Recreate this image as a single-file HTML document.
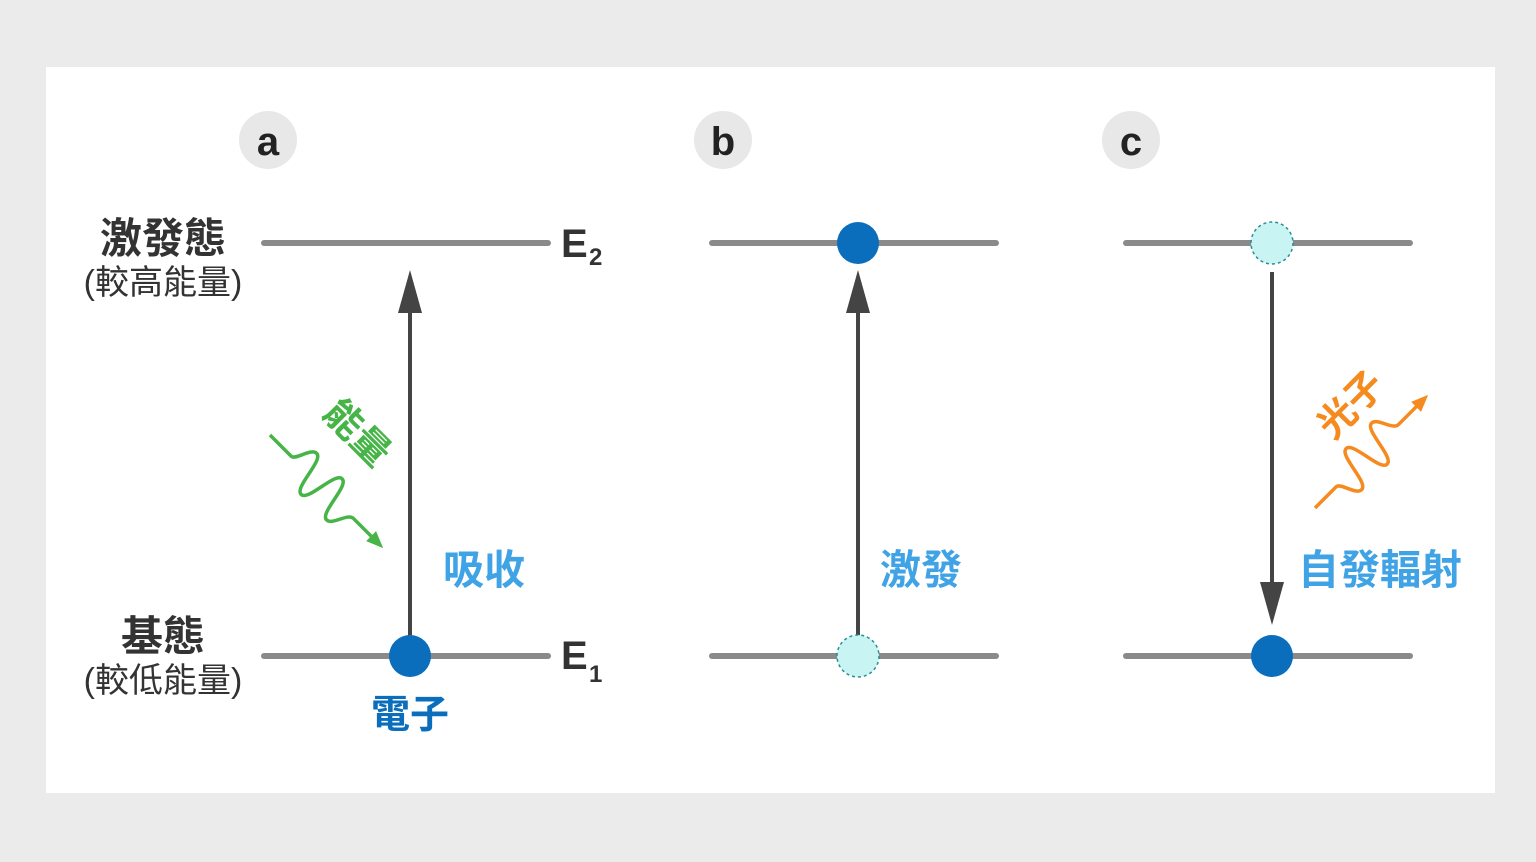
<!DOCTYPE html>
<html><head><meta charset="utf-8"><style>
body{margin:0;background:#ebebeb;}
svg{display:block}
text{font-family:"Liberation Sans","Noto Sans CJK TC",sans-serif;}
</style></head><body>
<svg width="1536" height="862" xmlns="http://www.w3.org/2000/svg">
<rect x="0" y="0" width="1536" height="862" fill="#ebebeb"/>
<rect x="46" y="67" width="1449" height="726" fill="#fff"/>
<circle cx="268" cy="140" r="29" fill="#e8e8e8"/><text x="268" y="155" font-size="40" font-weight="bold" text-anchor="middle" fill="#222">a</text>
<circle cx="723" cy="140" r="29" fill="#e8e8e8"/><text x="723" y="155" font-size="40" font-weight="bold" text-anchor="middle" fill="#222">b</text>
<circle cx="1131" cy="140" r="29" fill="#e8e8e8"/><text x="1131" y="155" font-size="40" font-weight="bold" text-anchor="middle" fill="#222">c</text>
<g stroke="#8a8a8a" stroke-width="6" stroke-linecap="round">
<line x1="264" y1="243" x2="548" y2="243"/><line x1="264" y1="656" x2="548" y2="656"/>
<line x1="712" y1="243" x2="996" y2="243"/><line x1="712" y1="656" x2="996" y2="656"/>
<line x1="1126" y1="243" x2="1410" y2="243"/><line x1="1126" y1="656" x2="1410" y2="656"/>
</g>
<text x="163" y="253" font-size="42" font-weight="bold" text-anchor="middle" fill="#333">激發態</text>
<text x="163" y="294" font-size="34" text-anchor="middle" fill="#333">(較高能量)</text>
<text x="163" y="651" font-size="42" font-weight="bold" text-anchor="middle" fill="#333">基態</text>
<text x="163" y="692" font-size="34" text-anchor="middle" fill="#333">(較低能量)</text>
<text x="561" y="257" font-size="40" font-weight="bold" fill="#333">E</text><text x="589" y="265" font-size="24" font-weight="bold" fill="#333">2</text>
<text x="561" y="669" font-size="40" font-weight="bold" fill="#333">E</text><text x="589" y="682" font-size="24" font-weight="bold" fill="#333">1</text>
<g stroke="#444" stroke-width="4">
<line x1="410" y1="636" x2="410" y2="300"/>
<line x1="858" y1="636" x2="858" y2="300"/>
<line x1="1272" y1="272" x2="1272" y2="595"/>
</g>
<g fill="#444">
<polygon points="410,270 398,313 422,313"/>
<polygon points="858,270 846,313 870,313"/>
<polygon points="1272,625 1260,582 1284,582"/>
</g>
<circle cx="410" cy="656" r="21" fill="#0a6ebd"/>
<circle cx="858" cy="243" r="21" fill="#0a6ebd"/>
<circle cx="1272" cy="656" r="21" fill="#0a6ebd"/>
<circle cx="858" cy="656" r="21" fill="#c8f4f4" stroke="#2a8f8f" stroke-width="1.5" stroke-dasharray="3,3"/>
<circle cx="1272" cy="243" r="21" fill="#c8f4f4" stroke="#2a8f8f" stroke-width="1.5" stroke-dasharray="3,3"/>
<text x="410" y="728" font-size="39" font-weight="bold" text-anchor="middle" fill="#0a6ebd">電子</text>
<text x="484" y="584" font-size="41" font-weight="bold" text-anchor="middle" fill="#3fa3e6">吸收</text>
<text x="921" y="584" font-size="41" font-weight="bold" text-anchor="middle" fill="#3fa3e6">激發</text>
<text x="1380" y="584" font-size="41" font-weight="bold" text-anchor="middle" fill="#3fa3e6">自發輻射</text>
<g transform="translate(270,435) rotate(45)">
<path d="M0 0 L30 0 C36 0 38 -20 46 -20 C56 -20 54 20 64 20 C74 20 72 -20 82 -20 C92 -20 90 20 100 20 C108 20 110 0 118 0 L150 0" fill="none" stroke="#46b446" stroke-width="3.5" stroke-linejoin="round"/>
<polygon points="160,0 143,-7 143,7" fill="#46b446"/>
</g>
<text transform="translate(348,442) rotate(45)" font-size="38" font-weight="bold" text-anchor="middle" fill="#46b446">能量</text>
<g transform="translate(1315,508) rotate(-45)">
<path d="M0 0 L30 0 C36 0 38 20 46 20 C56 20 54 -20 64 -20 C74 -20 72 20 82 20 C92 20 90 -20 100 -20 C108 -20 110 0 118 0 L150 0" fill="none" stroke="#f58a1f" stroke-width="3.5" stroke-linejoin="round"/>
<polygon points="160,0 143,-7 143,7" fill="#f58a1f"/>
</g>
<text transform="translate(1360,414) rotate(-45)" font-size="38" font-weight="bold" text-anchor="middle" fill="#f58a1f">光子</text>
</svg>
</body></html>
